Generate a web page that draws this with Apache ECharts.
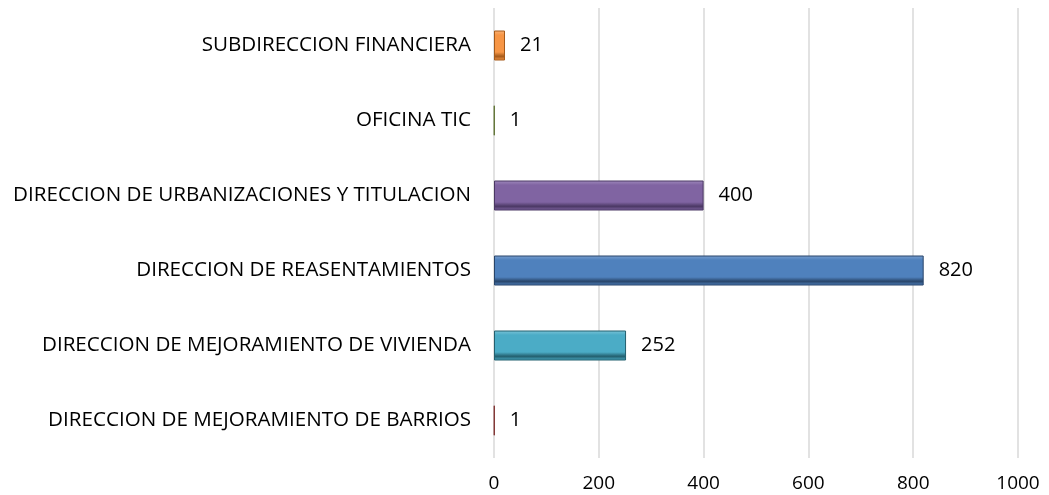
<!DOCTYPE html>
<html>
<head>
<meta charset="utf-8">
<script src="https://cdn.jsdelivr.net/npm/echarts@6/dist/echarts.min.js"></script>
<style>
  html, body { margin: 0; padding: 0; background: #fff; }
  #chart { width: 1049px; height: 495px; }
</style>
</head>
<body>
<div id="chart"></div>
<script>
// bottom to top, as on the picture
const categories = [
  'DIRECCION DE MEJORAMIENTO DE BARRIOS',
  'DIRECCION DE MEJORAMIENTO DE VIVIENDA',
  'DIRECCION DE REASENTAMIENTOS',
  'DIRECCION DE URBANIZACIONES Y TITULACION',
  'OFICINA TIC',
  'SUBDIRECCION FINANCIERA'
]
const values = [1, 252, 820, 400, 1, 21]
const xTicks = [0, 200, 400, 600, 800, 1000]

// base / light / dark per bar
const palette = [
  ['#C0504D', '#d27a78', '#7f2f2d'],
  ['#4BACC6', '#7cc4d8', '#23606f'],
  ['#4F81BD', '#7ca1d0', '#28456a'],
  ['#8064A2', '#a08abd', '#4b3864'],
  ['#9BBB59', '#b8d085', '#5d7231'],
  ['#F79646', '#fab37a', '#a65a1a']
]

const font = '"Open Sans", Lato, sans-serif'

const bevel = (c) => new echarts.graphic.LinearGradient(0, 0, 0, 1, [
  {offset: 0, color: c[1]},
  {offset: 0.15, color: c[0]},
  {offset: 0.72, color: c[0]},
  {offset: 0.86, color: c[2]},
  {offset: 1, color: c[0]}
])

const chart = echarts.init(document.getElementById('chart'))
chart.setOption({
  animation: false,
  grid: {left: 494, right: 31, top: 8, bottom: 37, containLabel: false},
  xAxis: {
    type: 'value',
    min: xTicks[0],
    max: xTicks[xTicks.length - 1],
    interval: 200,
    axisLine: {show: false},
    axisTick: {show: false},
    axisLabel: {
      margin: 16,
      color: '#000',
      fontFamily: font,
      fontSize: 19,
      formatter: (v) => String(v)
    },
    splitLine: {lineStyle: {color: '#d9d9d9', width: 1.5}}
  },
  yAxis: {
    type: 'category',
    data: categories,
    axisLine: {show: false},
    axisTick: {show: false},
    axisLabel: {
      margin: 23,
      color: '#000',
      fontFamily: font,
      fontSize: 20.6
    }
  },
  series: [{
    type: 'bar',
    barWidth: 30,
    data: values.map((v, i) => ({
      value: v,
      itemStyle: {
        color: bevel(palette[i]),
        borderColor: palette[i][2],
        borderWidth: 1
      }
    })),
    label: {
      show: true,
      position: 'right',
      distance: 15,
      color: '#000',
      fontFamily: font,
      fontSize: 20
    }
  }]
})
</script>
</body>
</html>
